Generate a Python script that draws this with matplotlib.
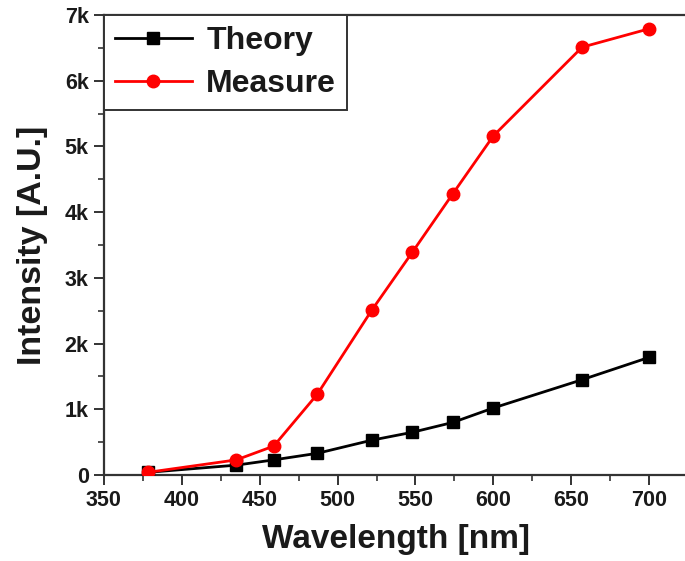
import matplotlib
matplotlib.use("Agg")
import matplotlib.pyplot as plt
from matplotlib.ticker import MultipleLocator, FuncFormatter

# Spectral response data
wavelength = [378, 435, 459, 487, 522, 548, 574, 600, 657, 700]
theory = [40, 150, 230, 330, 530, 650, 800, 1020, 1450, 1790]
measure = [40, 230, 440, 1230, 2510, 3390, 4280, 5160, 6510, 6790]

series_names = ["Theory", "Measure"]
x_label = "Wavelength [nm]"
y_label = "Intensity [A.U.]"

plt.rcParams["font.family"] = ["Liberation Sans", "DejaVu Sans"]
plt.rcParams["font.weight"] = "bold"

fig = plt.figure(figsize=(6.85, 5.61), dpi=100)
ax = fig.add_axes([0.1518, 0.1533, 0.8526, 0.82])

ax.plot(wavelength, theory, color="black", lw=2.0, marker="s", ms=8.5,
        label=series_names[0], zorder=3)
ax.plot(wavelength, measure, color="#ff0000", lw=2.0, marker="o", ms=9,
        label=series_names[1], zorder=4)

ax.set_xlim(350, 725)
ax.set_ylim(0, 7000)

ax.xaxis.set_major_locator(MultipleLocator(50))
ax.xaxis.set_minor_locator(MultipleLocator(25))
ax.yaxis.set_major_locator(MultipleLocator(1000))
ax.yaxis.set_minor_locator(MultipleLocator(500))


def k_fmt(v, _):
    return "0" if v == 0 else f"{int(round(v / 1000))}k"


ax.yaxis.set_major_formatter(FuncFormatter(k_fmt))

for s in ax.spines.values():
    s.set_linewidth(1.6)
    s.set_color("#333333")

ax.tick_params(axis="both", which="major", direction="out", length=7,
               width=1.4, color="#333333", labelsize=15.5, pad=4,
               labelcolor="#1a1a1a")
ax.tick_params(axis="both", which="minor", direction="out", length=4,
               width=1.2, color="#333333")
for lab in ax.get_xticklabels() + ax.get_yticklabels():
    lab.set_fontweight("bold")

ax.set_xlabel(x_label, fontsize=24, fontweight="bold", color="#1a1a1a",
              labelpad=9)
ax.set_ylabel(y_label, fontsize=24.5, fontweight="bold", color="#1a1a1a",
              labelpad=12)

leg = ax.legend(loc="upper left", bbox_to_anchor=(0.0, 1.0),
                prop={"size": 23, "weight": "bold"}, frameon=True,
                fancybox=False, edgecolor="#333333", framealpha=1,
                borderaxespad=0.0, handlelength=2.4, handletextpad=0.45,
                labelspacing=0.4, borderpad=0.35)
leg.get_frame().set_linewidth(1.4)
for t in leg.get_texts():
    t.set_color("#1a1a1a")

fig.savefig("out.png", dpi=100)
